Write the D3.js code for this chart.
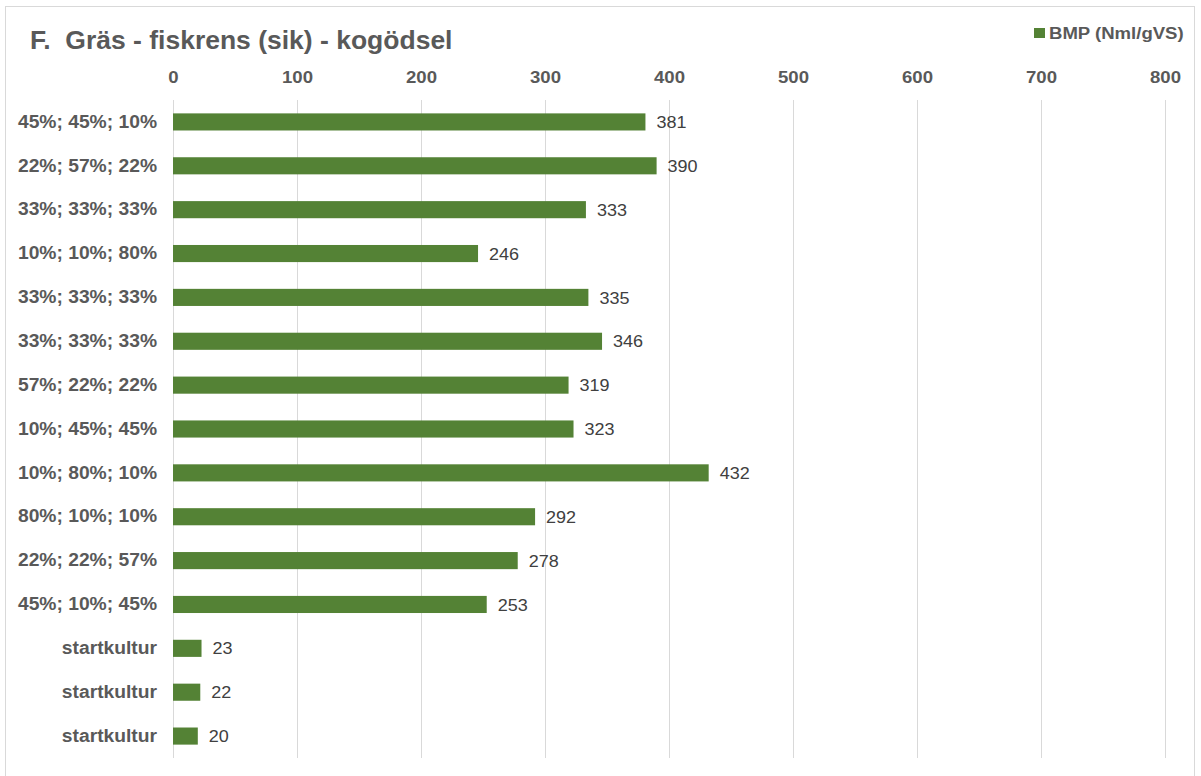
<!DOCTYPE html>
<html><head><meta charset="utf-8">
<script src="https://cdn.jsdelivr.net/npm/d3@7"></script>
<style>body{margin:0;background:#fff}svg{display:block;font-family:"Liberation Sans",Arial,sans-serif}</style>
</head><body><svg id="c" width="1201" height="776"></svg>
<script>
const categories = ["45%; 45%; 10%","22%; 57%; 22%","33%; 33%; 33%","10%; 10%; 80%","33%; 33%; 33%","33%; 33%; 33%","57%; 22%; 22%","10%; 45%; 45%","10%; 80%; 10%","80%; 10%; 10%","22%; 22%; 57%","45%; 10%; 45%","startkultur","startkultur","startkultur"];
const values = [381,390,333,246,335,346,319,323,432,292,278,253,23,22,20];
const tickValues = [0,100,200,300,400,500,600,700,800];
const seriesName = "BMP (Nml/gVS)";
const title = "F.  Gräs - fiskrens (sik) - kogödsel";

const svg = d3.select("#c");
// stretch a text horizontally around its anchor point
function stretch(sel, sx){
  sel.each(function(){
    const t=d3.select(this);
    const x=+t.attr("x")||0, y=+t.attr("y")||0;
    t.attr("x",0).attr("y",0).attr("transform",`translate(${x},${y}) scale(${sx},1)`);
  });
}
svg.append("rect").attr("x",5.5).attr("y",6.5).attr("width",1189).attr("height",780).attr("fill","#fff").attr("stroke","#d9d9d9");
const x=d3.scaleLinear().domain([0,800]).range([173,1165]);
const idx=d3.range(categories.length);
const y=d3.scaleBand().domain(idx).range([100,758]).paddingInner(0.61).paddingOuter(0.305);
// grid
svg.append("g").selectAll("line").data(tickValues).join("line")
 .attr("x1",d=>x(d)+0.5).attr("x2",d=>x(d)+0.5).attr("y1",100).attr("y2",758)
 .attr("stroke","#d9d9d9").attr("stroke-width",1);
// top axis labels
const ax=svg.append("g").attr("transform","translate(0,100)").call(d3.axisTop(x).tickValues(tickValues).tickSize(0).tickPadding(17));
ax.select(".domain").remove();
ax.selectAll("text").attr("fill","#595959").attr("font-size","16px").attr("font-weight","bold").attr("font-family","Liberation Sans, Arial, sans-serif");
stretch(ax.selectAll("text"),1.16);
// category labels
const ay=svg.append("g").attr("transform","translate(173,0)").call(d3.axisLeft(y).tickFormat(i=>categories[i]).tickSize(0).tickPadding(16));
ay.select(".domain").remove();
ay.selectAll("text").attr("fill","#595959").attr("font-size","18px").attr("font-weight","bold").attr("font-family","Liberation Sans, Arial, sans-serif");
stretch(ay.selectAll("text"),1.07);
// bars
svg.append("g").selectAll("rect").data(idx).join("rect")
 .attr("x",x(0)).attr("y",i=>y(i)).attr("width",i=>x(values[i])-x(0)).attr("height",y.bandwidth()).attr("fill","#548235");
// value labels
const vl=svg.append("g").selectAll("text").data(idx).join("text")
 .attr("x",i=>x(values[i])+11).attr("y",i=>y(i)+y.bandwidth()/2).attr("dy","0.36em")
 .attr("fill","#404040").attr("font-size","17px").text(i=>values[i]);
stretch(vl,1.06);
// title
const tt=svg.append("text").attr("x",30).attr("y",49).attr("fill","#595959").attr("font-size","25px").attr("font-weight","bold").attr("xml:space","preserve").style("white-space","pre").text(title);
stretch(tt,1.06);
// legend
svg.append("rect").attr("x",1034).attr("y",28).attr("width",11).attr("height",10).attr("fill","#548235");
const lt=svg.append("text").attr("x",1049).attr("y",39).attr("fill","#595959").attr("font-size","16px").attr("font-weight","bold").text(seriesName);
stretch(lt,1.16);
</script></body></html>
